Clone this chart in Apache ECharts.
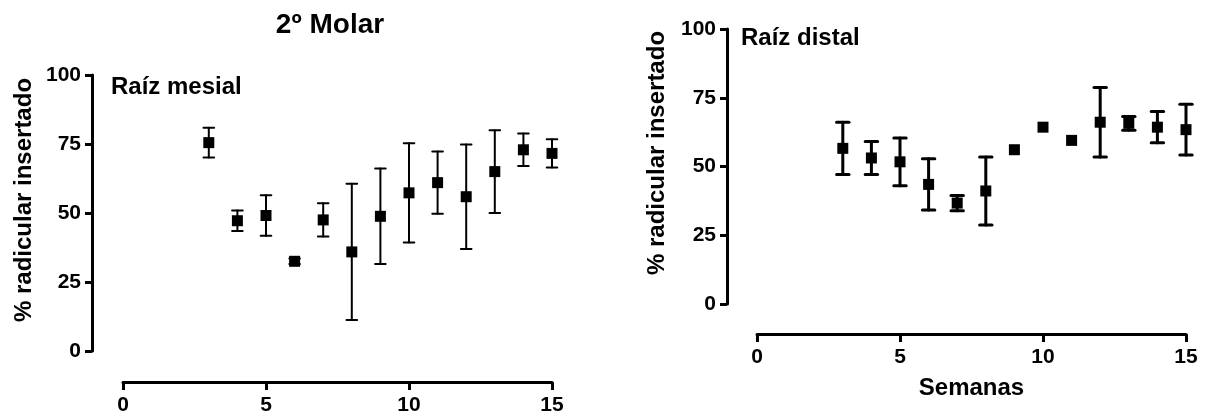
<!DOCTYPE html>
<html>
<head>
<meta charset="utf-8">
<script src="https://cdn.jsdelivr.net/npm/echarts@6/dist/echarts.min.js"></script>
<style>
html,body{margin:0;padding:0;background:#fff;}
#c{width:1210px;height:420px;}
</style>
</head>
<body>
<div id="c"></div>
<script>
// ---- data ----
const weeks = [3, 4, 5, 6, 7, 8, 9, 10, 11, 12, 13, 14, 15];
const mesialMean = [75.5, 47.2, 49.1, 32.5, 47.5, 35.9, 48.8, 57.3, 61.0, 55.9, 65.0, 72.9, 71.6];
const mesialErr  = [5.4, 3.7, 7.3, 1.0, 6.0, 24.7, 17.3, 18.0, 11.3, 18.9, 15.0, 5.9, 5.1];
const distalMean = [56.6, 53.1, 51.7, 43.5, 36.7, 41.1, 56.1, 64.3, 59.5, 66.1, 65.7, 64.3, 63.4];
const distalErr  = [9.5, 6.0, 8.7, 9.3, 2.8, 12.4, 0, 0, 0, 12.6, 2.5, 5.7, 9.2];
const xTicks = [0, 5, 10, 15];
const yTicks = [0, 25, 50, 75, 100];

const FONT = "'Liberation Sans', Arial, sans-serif";

function pts(mean) { return weeks.map((w, i) => [w, mean[i]]); }
function errData(mean, err) { return weeks.map((w, i) => [w, mean[i] - err[i], mean[i] + err[i]]); }

function errRender(lw, capHalf) {
  return function (params, api) {
    const x = api.value(0);
    const lo = api.coord([x, api.value(1)]);
    const hi = api.coord([x, api.value(2)]);
    if (Math.abs(hi[1] - lo[1]) < 0.5) return null;
    const st = { stroke: '#000', lineWidth: lw, lineCap: 'round' };
    return {
      type: 'group',
      children: [
        { type: 'line', shape: { x1: lo[0], y1: lo[1], x2: hi[0], y2: hi[1] }, style: st },
        { type: 'line', shape: { x1: lo[0] - capHalf, y1: lo[1], x2: lo[0] + capHalf, y2: lo[1] }, style: st },
        { type: 'line', shape: { x1: hi[0] - capHalf, y1: hi[1], x2: hi[0] + capHalf, y2: hi[1] }, style: st }
      ]
    };
  };
}

function xAxisCfg(gi, offset, extra) {
  return Object.assign({
    type: 'value', gridIndex: gi, min: 0, max: 15, interval: 5, offset: offset,
    axisLine: { show: true, onZero: false, lineStyle: { color: '#000', width: 3 } },
    axisTick: { show: true, length: 8, lineStyle: { color: '#000', width: 3 } },
    axisLabel: { color: '#000', fontFamily: FONT, fontWeight: 'bold', fontSize: 21, margin: 13,
      formatter: v => xTicks.includes(v) ? String(v) : '' },
    splitLine: { show: false }
  }, extra || {});
}
function yAxisCfg(gi, offset) {
  return {
    type: 'value', gridIndex: gi, min: 0, max: 100, interval: 25, offset: offset,
    axisLine: { show: true, onZero: false, lineStyle: { color: '#000', width: 3 } },
    axisTick: { show: true, length: 7, lineStyle: { color: '#000', width: 3 } },
    axisLabel: { color: '#000', fontFamily: FONT, fontWeight: 'bold', fontSize: 21, margin: 11,
      formatter: v => yTicks.includes(v) ? String(v) : '' },
    splitLine: { show: false }
  };
}

const chart = echarts.init(document.getElementById('c'), null, { renderer: 'canvas' });
chart.setOption({
  backgroundColor: '#fff',
  animation: false,
  title: {
    text: '2º Molar', left: 325, top: 6, textAlign: 'center',
    textStyle: { fontFamily: FONT, fontWeight: 'bold', fontSize: 28, color: '#000' }
  },
  grid: [
    { left: 123, top: 75, width: 429, height: 276 },
    { left: 757, top: 29, width: 429, height: 275 }
  ],
  xAxis: [
    xAxisCfg(0, 31),
    xAxisCfg(1, 30, { name: 'Semanas', nameLocation: 'middle', nameGap: 42,
      nameTextStyle: { fontFamily: FONT, fontWeight: 'bold', fontSize: 24, color: '#000' } })
  ],
  yAxis: [yAxisCfg(0, 31), yAxisCfg(1, 30)],
  graphic: [
    { type: 'text', x: 24, y: 200, rotation: Math.PI / 2,
      style: { text: '% radicular insertado', textAlign: 'center', textVerticalAlign: 'middle',
        font: 'bold 24px ' + FONT, fill: '#000' } },
    { type: 'text', x: 657, y: 153, rotation: Math.PI / 2,
      style: { text: '% radicular insertado', textAlign: 'center', textVerticalAlign: 'middle',
        font: 'bold 24px ' + FONT, fill: '#000' } },
    { type: 'text', x: 111, y: 87,
      style: { text: 'Raíz mesial', textAlign: 'left', textVerticalAlign: 'middle',
        font: 'bold 24px ' + FONT, fill: '#000' } },
    { type: 'text', x: 741, y: 38,
      style: { text: 'Raíz distal', textAlign: 'left', textVerticalAlign: 'middle',
        font: 'bold 24px ' + FONT, fill: '#000' } }
  ],
  series: [
    { type: 'custom', xAxisIndex: 0, yAxisIndex: 0, renderItem: errRender(2, 5.3),
      data: errData(mesialMean, mesialErr), z: 2 },
    { type: 'scatter', xAxisIndex: 0, yAxisIndex: 0, symbol: 'rect', symbolSize: 11,
      itemStyle: { color: '#000', opacity: 1 }, data: pts(mesialMean), z: 3 },
    { type: 'custom', xAxisIndex: 1, yAxisIndex: 1, renderItem: errRender(3, 6.2),
      data: errData(distalMean, distalErr), z: 2 },
    { type: 'scatter', xAxisIndex: 1, yAxisIndex: 1, symbol: 'rect', symbolSize: 11,
      itemStyle: { color: '#000', opacity: 1 }, data: pts(distalMean), z: 3 }
  ]
});
</script>
</body>
</html>
